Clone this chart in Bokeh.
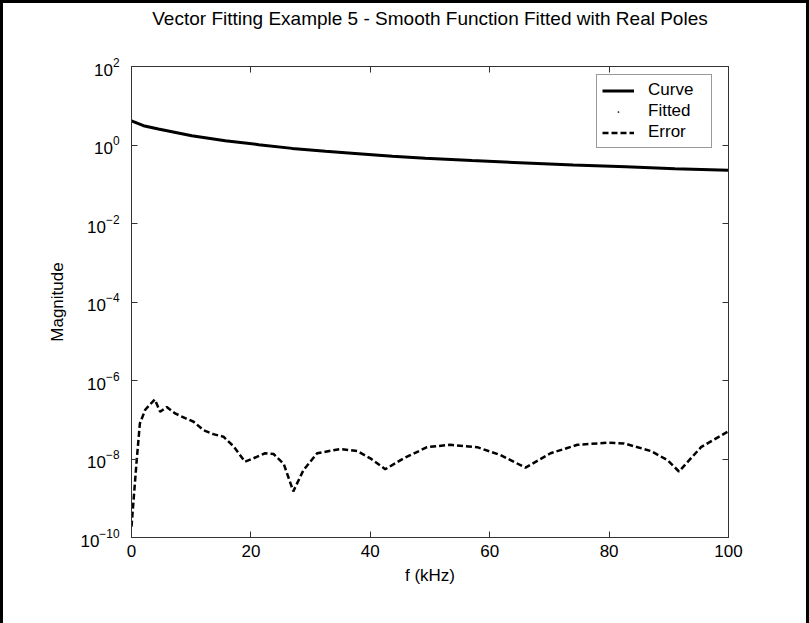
from bokeh.plotting import figure
from bokeh.models import (LogAxis, LinearAxis, FixedTicker, Legend, LegendItem,
                          ColumnDataSource)
from bokeh.embed import file_html
from bokeh.resources import INLINE

# ---- data ----
title_text = "Vector Fitting Example 5 - Smooth Function Fitted with Real Poles"
x_label = "f (kHz)"
y_label = "Magnitude"

f_curve = [0, 2, 4.5, 10.1, 15.7, 21.3, 26.9, 32.5, 38, 43.7, 49.2, 57, 66, 74, 82.8, 91, 100]
mag_curve = [4.1, 3.1, 2.57, 1.73, 1.29, 1.02, 0.82, 0.69, 0.60, 0.52, 0.46, 0.40, 0.35,
             0.31, 0.28, 0.25, 0.226]

f_fit = f_curve
mag_fit = mag_curve

f_err = [0, 0.87, 1.4, 2.3, 3.9, 4.8, 5.9, 7.3, 9.0, 10.4, 12.0, 13.7, 15.4, 17.1, 19.0,
         20.4, 22.4, 23.8, 25.5, 27.1, 28.8, 31.1, 35.0, 37.8, 40.0, 42.5, 45.6, 49.5,
         53.4, 57.9, 61.8, 66.0, 70.2, 74.7, 79.7, 82.5, 87.0, 89.8, 91.7, 95.4, 100]
mag_err = [1.9e-10, 9.3e-9, 8e-8, 1.8e-7, 3.3e-7, 1.6e-7, 2.1e-7, 1.45e-7, 1.1e-7, 8.9e-8,
           5.5e-8, 4.3e-8, 3.7e-8, 2.1e-8, 8.5e-9, 1.04e-8, 1.4e-8, 1.34e-8, 7.5e-9, 1.5e-9,
           5.2e-9, 1.4e-8, 1.8e-8, 1.6e-8, 1.04e-8, 5.5e-9, 1.04e-8, 2e-8, 2.3e-8, 2e-8,
           1.26e-8, 6e-9, 1.4e-8, 2.3e-8, 2.6e-8, 2.5e-8, 1.6e-8, 9.3e-9, 4.8e-9, 2e-8, 5.1e-8]

x_ticks = [0, 20, 40, 60, 80, 100]
y_ticks = [1e-10, 1e-8, 1e-6, 1e-4, 1e-2, 1e0, 1e2]

FONT = "Liberation Sans"
FS = "17px"
AX = "#333333"

p = figure(width=809, height=623, x_range=(0, 100), y_range=(1e-10, 1e2),
           y_axis_type="log", output_backend="svg", toolbar_location=None,
           min_border_left=131, min_border_right=81, min_border_top=66,
           min_border_bottom=86)
p.border_fill_color = None
p.background_fill_color = "white"
p.styles = {"box-shadow": "inset 3px 3px 0 0 #000, inset -3px 0 0 0 #000",
            "background-color": "white"}

p.grid.visible = False
p.outline_line_color = AX
p.outline_line_width = 1

def style_axis(ax, labels=True):
    ax.axis_line_color = AX
    ax.major_tick_line_color = AX
    ax.major_tick_in = 6
    ax.major_tick_out = 0
    ax.minor_tick_line_color = None
    ax.major_label_text_font = FONT
    ax.major_label_text_font_size = FS if labels else "1px"
    ax.major_label_text_color = "black" if labels else None
    ax.axis_label_text_font = FONT
    ax.axis_label_text_font_size = FS
    ax.axis_label_text_font_style = "normal"
    ax.axis_label_text_color = "black"

xa = p.xaxis[0]
xa.ticker = FixedTicker(ticks=x_ticks)
xa.axis_label = x_label
style_axis(xa)
xa.major_label_standoff = 7
xa.axis_label_standoff = 6

ya = p.yaxis[0]
ya.ticker = FixedTicker(ticks=y_ticks, minor_ticks=[])
ya.axis_label = y_label
style_axis(ya)
ya.major_label_standoff = 12
ya.axis_label_standoff = 10

# top axis (box ticks) carries the chart title as its label
top = LinearAxis(ticker=FixedTicker(ticks=x_ticks))
style_axis(top, labels=False)
top.major_label_standoff = 0
top.axis_label = title_text
top.axis_label_text_font_size = "19px"
top.axis_label_standoff = 38
p.add_layout(top, "above")

right = LogAxis(ticker=FixedTicker(ticks=y_ticks, minor_ticks=[]))
style_axis(right, labels=False)
right.major_label_standoff = 0
p.add_layout(right, "right")

src_c = ColumnDataSource(dict(f=f_curve, m=mag_curve))
src_fit = ColumnDataSource(dict(f=f_fit, m=mag_fit))
src_e = ColumnDataSource(dict(f=f_err, m=mag_err))

r_curve = p.line("f", "m", source=src_c, line_color="black", line_width=3)
r_fit = p.scatter("f", "m", source=src_fit, marker="dot", size=8,
                  fill_color="black", line_color="black")
r_err = p.line("f", "m", source=src_e, line_color="black", line_width=2.5,
               line_dash="6 3")

legend = Legend(items=[LegendItem(label="Curve", renderers=[r_curve]),
                       LegendItem(label="Fitted", renderers=[r_fit]),
                       LegendItem(label="Error", renderers=[r_err])],
                location=(465, 389))
legend.label_text_font = FONT
legend.label_text_font_size = FS
legend.label_text_color = "black"
legend.border_line_color = AX
legend.border_line_width = 1
legend.background_fill_color = "white"
legend.background_fill_alpha = 1
legend.glyph_width = 32
legend.glyph_height = 17
legend.label_height = 17
legend.label_width = 58
legend.label_standoff = 14
legend.spacing = 1
legend.padding = 5
legend.margin = 0
p.add_layout(legend)

open("out.html", "w").write(file_html(p, INLINE))
